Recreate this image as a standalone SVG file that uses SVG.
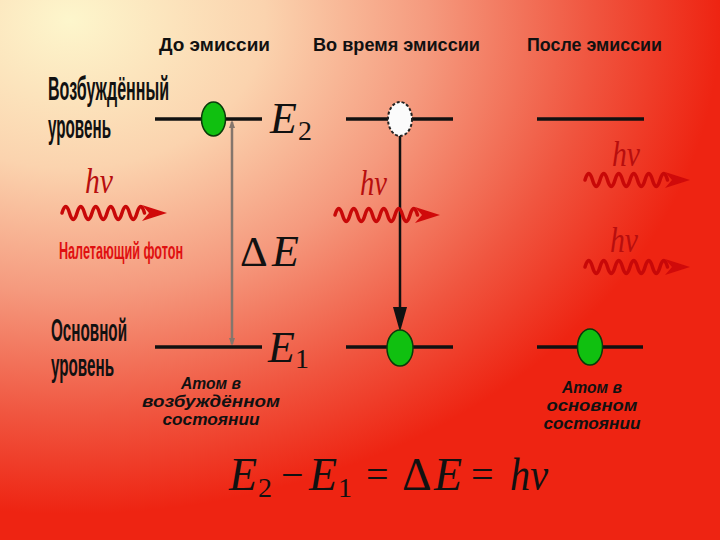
<svg xmlns="http://www.w3.org/2000/svg" width="720" height="540" viewBox="0 0 720 540">
<defs>
  <radialGradient id="bg" gradientUnits="userSpaceOnUse" cx="70" cy="20" r="650" gradientTransform="translate(70 20) scale(1 0.76) translate(-70 -20)">
    <stop offset="0" stop-color="#fdf6cc"/>
    <stop offset="0.3" stop-color="#fbd3ae"/>
    <stop offset="0.55" stop-color="#f59a7e"/>
    <stop offset="0.8" stop-color="#f05640"/>
    <stop offset="1" stop-color="#ee2412"/>
  </radialGradient>
  <g id="photon">
    <path d="M0,0 q3.75,-13 7.5,0 t7.5,0 t7.5,0 t7.5,0 t7.5,0 t7.5,0 t7.5,0 t7.5,0 t7.5,0 t7.5,0 t7.5,0" fill="none" stroke="#c80808" stroke-width="3.5" stroke-linecap="round"/>
    <path d="M80,-8 L105,0 L80,8 L87,0 Z" fill="#d00a0a"/>
  </g>
</defs>
<style>
  .title { font-family: "Liberation Sans", Arial, sans-serif; font-weight: bold; font-size: 18px; fill: #111; }
  .cond { font-family: "Liberation Sans", Arial, sans-serif; font-weight: bold; font-size: 26px; fill: #111; }
  .cond2 { font-family: "Liberation Sans", Arial, sans-serif; font-weight: bold; font-size: 27px; fill: #111; }
  .lbl { font-family: "Liberation Sans", Arial, sans-serif; font-weight: bold; font-style: italic; font-size: 16px; fill: #111; text-anchor: middle; }
  .red { font-family: "Liberation Sans", Arial, sans-serif; font-weight: bold; font-size: 16px; fill: #e01010; }
  .math { font-family: "Liberation Serif", "Times New Roman", serif; fill: #111; }
  .it { font-style: italic; }
  .hv { font-family: "Liberation Serif", "Times New Roman", serif; font-style: italic; font-size: 36px; fill: #b80e0e; }
  .level { stroke: #111; stroke-width: 3.5; }
  .green { fill: #10c010; stroke: #0a3a0a; stroke-width: 1.5; }
</style>
<rect width="720" height="540" fill="url(#bg)"/>

<g id="titles">
  <text class="title" x="159" y="51" textLength="111" lengthAdjust="spacingAndGlyphs">До эмиссии</text>
  <text class="title" x="313" y="51" textLength="167" lengthAdjust="spacingAndGlyphs">Во время эмиссии</text>
  <text class="title" x="527" y="51" textLength="135" lengthAdjust="spacingAndGlyphs">После эмиссии</text>
</g>

<g id="level-labels">
  <text class="cond" transform="translate(48 100) scale(1 1.3)" textLength="121" lengthAdjust="spacingAndGlyphs">Возбуждённый</text>
  <text class="cond" transform="translate(48 138) scale(1 1.3)" textLength="63" lengthAdjust="spacingAndGlyphs">уровень</text>
  <text class="cond2" transform="translate(51 341) scale(1 1.15)" textLength="76" lengthAdjust="spacingAndGlyphs">Основной</text>
  <text class="cond2" transform="translate(51 376) scale(1 1.15)" textLength="63" lengthAdjust="spacingAndGlyphs">уровень</text>
</g>

<g id="connectors">
  <line x1="232" y1="122" x2="232" y2="344" stroke="#85766c" stroke-width="2.5"/>
  <path d="M229,128 L232,120 L235,128 Z" fill="#85766c"/>
  <path d="M229,338 L232,346 L235,338 Z" fill="#85766c"/>
  <line x1="400" y1="136" x2="400" y2="312" stroke="#111" stroke-width="2.5"/>
  <path d="M393,307 L407,307 L400,332 Z" fill="#111"/>
</g>

<g id="before">
  <line class="level" x1="155" y1="119" x2="262" y2="119"/>
  <line class="level" x1="155" y1="347" x2="262" y2="347"/>
  <ellipse class="green" cx="213.5" cy="119" rx="12" ry="17"/>
  <text class="math it" x="270" y="133" font-size="44">E</text>
  <text class="math" x="298" y="140" font-size="28">2</text>
  <text class="math" x="240" y="266" font-size="43">Δ</text>
  <text class="math it" x="272" y="266" font-size="44">E</text>
  <text class="math it" x="268" y="362" font-size="44">E</text>
  <text class="math" x="295" y="368" font-size="28">1</text>
  <text class="hv" x="85" y="193" textLength="28" lengthAdjust="spacingAndGlyphs">hν</text>
  <use href="#photon" x="62" y="213"/>
  <text class="red" transform="translate(59 259) scale(1 1.5)" textLength="124" lengthAdjust="spacingAndGlyphs">Налетающий фотон</text>
  <text class="lbl" x="211" y="389" textLength="60" lengthAdjust="spacingAndGlyphs">Атом в</text>
  <text class="lbl" x="211" y="407" textLength="138" lengthAdjust="spacingAndGlyphs">возбуждённом</text>
  <text class="lbl" x="211" y="425" textLength="97" lengthAdjust="spacingAndGlyphs">состоянии</text>
</g>

<g id="during">
  <line class="level" x1="346" y1="119" x2="453" y2="119"/>
  <line class="level" x1="346" y1="347" x2="453" y2="347"/>
  <ellipse cx="400" cy="119" rx="12" ry="17" fill="#fbfbfb" stroke="#222" stroke-width="2" stroke-dasharray="3 2"/>
  <ellipse class="green" cx="400" cy="348" rx="13" ry="18"/>
  <text class="hv" x="360" y="195" textLength="27" lengthAdjust="spacingAndGlyphs">hν</text>
  <use href="#photon" x="335" y="215"/>
</g>

<g id="after">
  <line class="level" x1="537" y1="119" x2="644" y2="119"/>
  <line class="level" x1="537" y1="347" x2="643" y2="347"/>
  <ellipse class="green" cx="590" cy="347" rx="12.5" ry="18"/>
  <text class="hv" x="612" y="166" textLength="28" lengthAdjust="spacingAndGlyphs">hν</text>
  <use href="#photon" x="585" y="180"/>
  <text class="hv" x="610" y="252" textLength="28" lengthAdjust="spacingAndGlyphs">hν</text>
  <use href="#photon" x="585" y="267"/>
  <text class="lbl" x="592" y="393" textLength="60" lengthAdjust="spacingAndGlyphs">Атом в</text>
  <text class="lbl" x="592" y="411" textLength="91" lengthAdjust="spacingAndGlyphs">основном</text>
  <text class="lbl" x="592" y="429" textLength="97" lengthAdjust="spacingAndGlyphs">состоянии</text>
</g>

<g id="formula">
  <text class="math it" x="229" y="490" font-size="46">E</text>
  <text class="math" x="258" y="497" font-size="28">2</text>
  <text class="math" x="281" y="488" font-size="40">−</text>
  <text class="math it" x="309" y="490" font-size="46">E</text>
  <text class="math" x="338" y="497" font-size="28">1</text>
  <text class="math" x="366" y="488" font-size="40">=</text>
  <text class="math" x="402" y="490" font-size="46">Δ</text>
  <text class="math it" x="434" y="490" font-size="46">E</text>
  <text class="math" x="471" y="488" font-size="40">=</text>
  <text class="math it" x="510" y="490" font-size="46" textLength="38" lengthAdjust="spacingAndGlyphs">hν</text>
</g>
</svg>
